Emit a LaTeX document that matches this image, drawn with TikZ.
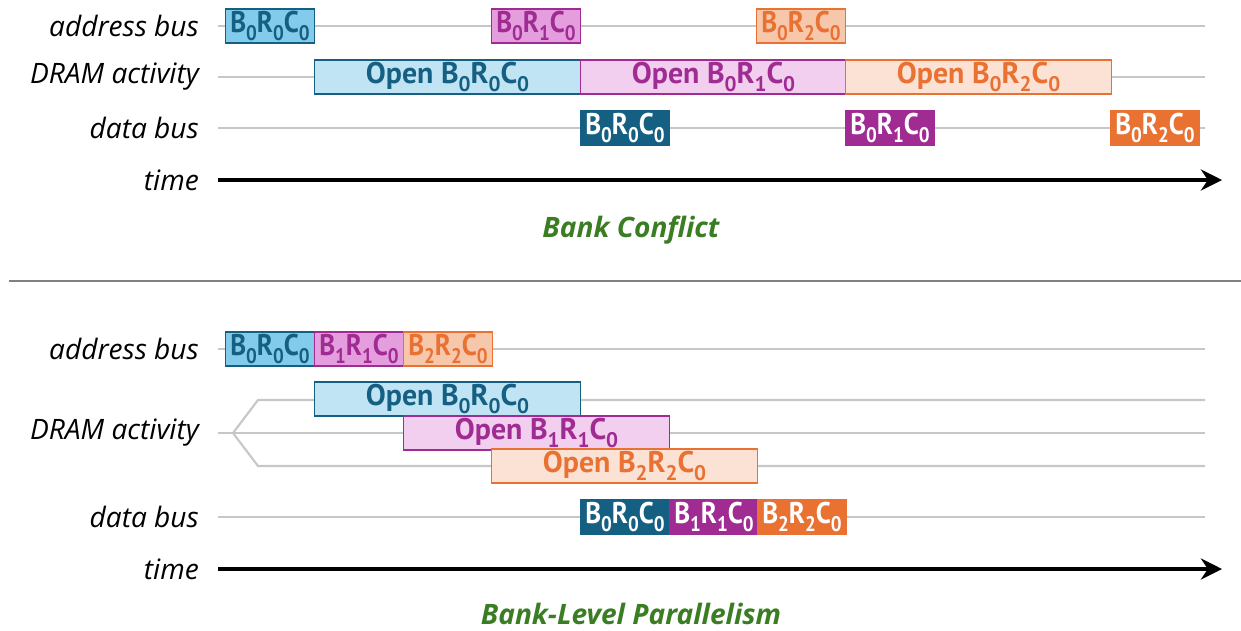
\documentclass[tikz,border=0pt]{standalone}
\usepackage{fontspec}
\setmainfont{Open Sans}
\newfontfamily\boxfont{PT Sans}
\usetikzlibrary{positioning,arrows.meta}

\definecolor{bluedark}{HTML}{156082}
\definecolor{bluemid}{HTML}{83CBEB}
\definecolor{bluelight}{HTML}{C1E4F5}
\definecolor{purpledark}{HTML}{A02B93}
\definecolor{purplemid}{HTML}{E49EDD}
\definecolor{purplelight}{HTML}{F2CEEF}
\definecolor{orangedark}{HTML}{E97132}
\definecolor{orangemid}{HTML}{F7C7AC}
\definecolor{orangelight}{HTML}{FBE2D5}
\definecolor{titlegreen}{HTML}{3B7D23}

\newcommand{\subdig}[1]{\raisebox{-0.5ex}{\fontsize{12}{12}\selectfont #1}}
\newcommand{\bankrc}[3]{B\subdig{#1}R\subdig{#2}C\subdig{#3}}
\newcommand{\squeeze}[1]{\scalebox{0.9}[1]{#1}}

\tikzset{
  rowlabel/.style={anchor=east, font=\fontsize{16}{19}\selectfont\itshape},
  track/.style={draw=black!22, line width=1.2pt},
  timeline/.style={line width=2.3pt, -{Stealth[length=12pt,width=12pt]}},
  cmdbox/.style={draw, line width=0.6pt, anchor=west, minimum width=89*0.02cm,
    minimum height=34*0.02cm, inner sep=0pt,
    font=\boxfont\bfseries\fontsize{17}{19}\selectfont},
  openbox/.style={cmdbox, minimum width=266*0.02cm},
  title/.style={font=\fontsize{16}{19}\selectfont\bfseries\itshape, text=titlegreen}
}

\begin{document}
\begin{tikzpicture}[x=0.02cm, y=-0.02cm]
  \useasboundingbox (0,0) rectangle (1241,630);

  % bank conflict
  \node[rowlabel] (addr1) at (205,26) {address bus};
  \node[rowlabel] (dram1) at (205,77) {DRAM activity};
  \node[rowlabel] (data1) at (205,128) {data bus};
  \node[rowlabel] (time1) at (205,180) {time};

  \coordinate (a1s) at (218,26);  \coordinate (a1e) at (1205,26);
  \coordinate (d1s) at (218,77);  \coordinate (d1e) at (1205,77);
  \coordinate (b1s) at (218,128); \coordinate (b1e) at (1205,128);
  \coordinate (t1s) at (218,180); \coordinate (t1e) at (1222,180);
  \draw[track] (a1s) -- (a1e);
  \draw[track] (d1s) -- (d1e);
  \draw[track] (b1s) -- (b1e);
  \draw[timeline] (t1s) -- (t1e);

  \node[cmdbox, draw=bluedark, fill=bluemid, text=bluedark] (ca0) at (225,26) {\squeeze{\bankrc000}};
  \node[cmdbox, draw=purpledark, fill=purplemid, text=purpledark] (ca1) at (491,26) {\squeeze{\bankrc010}};
  \node[cmdbox, draw=orangedark, fill=orangemid, text=orangedark] (ca2) at (756,26) {\squeeze{\bankrc020}};

  \node[openbox, draw=bluedark, fill=bluelight, text=bluedark] (co0) at (314,77) {Open \bankrc000};
  \node[openbox, draw=purpledark, fill=purplelight, text=purpledark] (co1) at (580,77) {Open \bankrc010};
  \node[openbox, draw=orangedark, fill=orangelight, text=orangedark] (co2) at (845,77) {Open \bankrc020};

  \node[cmdbox, draw=bluedark, fill=bluedark, text=white] (cd0) at (580,128) {\squeeze{\bankrc000}};
  \node[cmdbox, draw=purpledark, fill=purpledark, text=white] (cd1) at (845,128) {\squeeze{\bankrc010}};
  \node[cmdbox, draw=orangedark, fill=orangedark, text=white] (cd2) at (1110,128) {\squeeze{\bankrc020}};

  \node[title] (conflict) at (631,230) {Bank Conflict};

  \coordinate (sepl) at (9,281); \coordinate (sepr) at (1241,281);
  \draw[black!50, line width=1.3pt] (sepl) -- (sepr);

  % bank-level parallelism
  \node[rowlabel] (addr2) at (205,349) {address bus};
  \node[rowlabel] (dram2) at (205,433) {DRAM activity};
  \node[rowlabel] (data2) at (205,517) {data bus};
  \node[rowlabel] (time2) at (205,569) {time};

  \coordinate (a2s) at (218,349); \coordinate (a2e) at (1205,349);
  \coordinate (fork) at (233,433);
  \coordinate (d2s) at (218,433);
  \coordinate (k0) at (258,400); \coordinate (k2) at (258,466);
  \coordinate (e0) at (1205,400); \coordinate (e1) at (1205,433); \coordinate (e2) at (1205,466);
  \coordinate (b2s) at (218,517); \coordinate (b2e) at (1205,517);
  \coordinate (t2s) at (218,569); \coordinate (t2e) at (1222,569);
  \draw[track] (a2s) -- (a2e);
  \draw[track] (d2s) -- (fork) -- (e1);
  \draw[track] (fork) -- (k0) -- (e0);
  \draw[track] (fork) -- (k2) -- (e2);
  \draw[track] (b2s) -- (b2e);
  \draw[timeline] (t2s) -- (t2e);

  \node[cmdbox, draw=bluedark, fill=bluemid, text=bluedark] (pa0) at (225,349) {\squeeze{\bankrc000}};
  \node[cmdbox, draw=purpledark, fill=purplemid, text=purpledark] (pa1) at (314,349) {\squeeze{\bankrc110}};
  \node[cmdbox, draw=orangedark, fill=orangemid, text=orangedark] (pa2) at (403,349) {\squeeze{\bankrc220}};

  \node[openbox, draw=bluedark, fill=bluelight, text=bluedark] (po0) at (314,399) {Open \bankrc000};
  \node[openbox, draw=purpledark, fill=purplelight, text=purpledark] (po1) at (403,433) {Open \bankrc110};
  \node[openbox, draw=orangedark, fill=orangelight, text=orangedark] (po2) at (491,466) {Open \bankrc220};

  \node[cmdbox, draw=bluedark, fill=bluedark, text=white] (pd0) at (580,517) {\squeeze{\bankrc000}};
  \node[cmdbox, draw=purpledark, fill=purpledark, text=white] (pd1) at (669,517) {\squeeze{\bankrc110}};
  \node[cmdbox, draw=orangedark, fill=orangedark, text=white] (pd2) at (757,517) {\squeeze{\bankrc220}};

  \node[title] (parallel) at (631,614) {Bank-Level Parallelism};
\end{tikzpicture}
\end{document}
